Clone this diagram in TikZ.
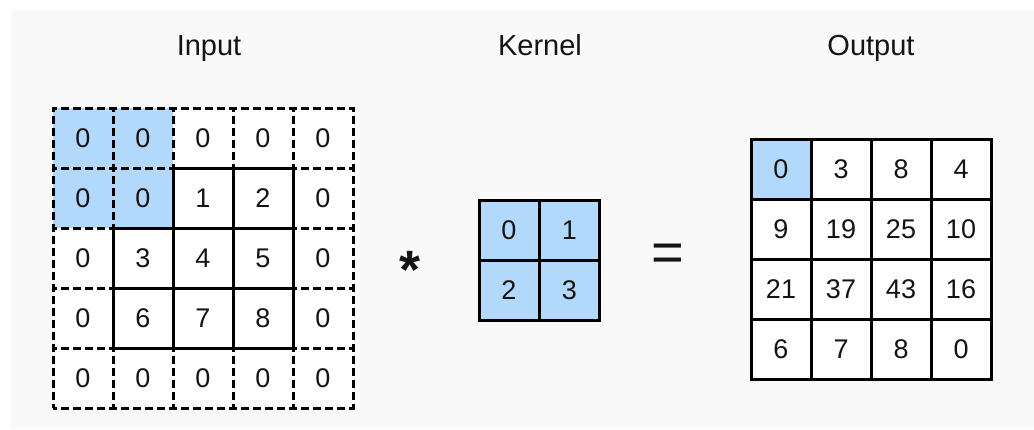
\documentclass[tikz,border=0pt]{standalone}
\usepackage{fontspec}
\setmainfont{Liberation Sans}
\definecolor{bg}{RGB}{249,249,249}
\definecolor{cellblue}{RGB}{178,216,252}
\definecolor{ink}{RGB}{20,20,20}
\begin{document}
\begin{tikzpicture}[x=1pt,y=-1pt,
  cell/.style={minimum size=60pt,inner sep=0pt,outer sep=0pt,anchor=north west,
    font=\fontsize{27}{30}\selectfont,text=ink},
  padcell/.style={cell,draw=black,line width=3pt,dash pattern=on 8pt off 4pt,dash phase=4pt},
  solidcell/.style={cell,draw=black,line width=3pt},
  title/.style={anchor=base,font=\fontsize{29}{32}\selectfont,text=ink},
  opsym/.style={inner sep=0pt,text=ink}]
\useasboundingbox (0,0) rectangle (1034,429);
\fill[white] (0,0) rectangle (1034,429);
\fill[bg] (11,10) rectangle (1034,429);

% titles
\node[title] (tin) at (209,55) {Input};
\node[title] (tk) at (540,55) {Kernel};
\node[title] (tout) at (871,55) {Output};

% input grid fills
\fill[white] (53,108) rectangle (353,408);
\fill[cellblue] (53,108) rectangle (173,228);
% padding cells (dashed)
\foreach \r/\vals in {0/{0,0,0,0,0},1/{0,0,1,2,0},2/{0,3,4,5,0},3/{0,6,7,8,0},4/{0,0,0,0,0}}{
  \foreach \v [count=\c from 0] in \vals {
    \ifnum\v=0
      \node[padcell] (in-\r-\c) at ({53+60*\c},{108+60*\r}) {\v};
    \fi
  }
}
% interior cells (solid)
\foreach \r/\vals in {0/{0,0,0,0,0},1/{0,0,1,2,0},2/{0,3,4,5,0},3/{0,6,7,8,0},4/{0,0,0,0,0}}{
  \foreach \v [count=\c from 0] in \vals {
    \ifnum\v=0 \else
      \node[solidcell] (in-\r-\c) at ({53+60*\c},{108+60*\r}) {\v};
    \fi
  }
}

% operator symbols
\node[opsym,font=\fontsize{54}{54}\selectfont\bfseries] (star) at (410,270) {*};
\node[opsym,font=\fontsize{56}{56}\selectfont] (eq) at (668,258) {=};

% kernel
\fill[cellblue] (479,200) rectangle (600,320);
\foreach \r/\vals in {0/{0,1},1/{2,3}}{
  \foreach \v [count=\c from 0] in \vals {
    \node[solidcell] (k-\r-\c) at ({479+60.5*\c},{200+60*\r}) {\v};
  }
}

% output
\fill[white] (751,139.5) rectangle (991,379.5);
\fill[cellblue] (751,139.5) rectangle (811,199.5);
\foreach \r/\vals in {0/{0,3,8,4},1/{9,19,25,10},2/{21,37,43,16},3/{6,7,8,0}}{
  \foreach \v [count=\c from 0] in \vals {
    \node[solidcell] (out-\r-\c) at ({751+60*\c},{139.5+60*\r}) {\v};
  }
}
\end{tikzpicture}
\end{document}
